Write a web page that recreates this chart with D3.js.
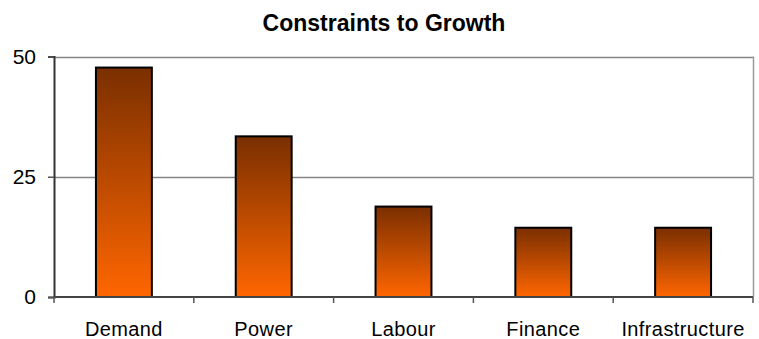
<!DOCTYPE html>
<html>
<head>
<meta charset="utf-8">
<script src="https://cdn.jsdelivr.net/npm/d3@7/dist/d3.min.js"></script>
<style>
  html, body { margin: 0; padding: 0; background: #ffffff; }
  svg { display: block; font-family: "Liberation Sans", Arial, sans-serif; }
</style>
</head>
<body>
<svg id="chart" width="759" height="339"></svg>
<script>
// Survey results: share of respondents naming each constraint
const categories = ["Demand", "Power", "Labour", "Finance", "Infrastructure"];
const values = [47.7, 33.4, 18.8, 14.4, 14.4];
const yTicks = [0, 25, 50];
const title = "Constraints to Growth";

const svg = d3.select("#chart");
const plotLeft = 54, plotRight = 753, plotTop = 56.5, plotBottom = 297;

const x = d3.scaleBand().domain(categories).range([plotLeft, plotRight]).paddingInner(0.6).paddingOuter(0.3);
const xb = d3.scaleBand().domain(categories).range([plotLeft, plotRight]);
const y = d3.scaleLinear().domain([0, 50]).range([plotBottom, plotTop]);

// Bar fill: dark brown at the top fading to bright orange at the base
const grad = svg.append("defs").append("linearGradient")
  .attr("id", "barGrad").attr("x1", 0).attr("y1", 0).attr("x2", 0).attr("y2", 1);
grad.append("stop").attr("offset", "0%").attr("stop-color", "#7a2f00");
grad.append("stop").attr("offset", "100%").attr("stop-color", "#ff6600");

// Horizontal gridlines
svg.append("g").selectAll("line").data(yTicks.filter(d => d > 0)).join("line")
  .attr("x1", plotLeft).attr("x2", plotRight)
  .attr("y1", d => Math.round(y(d)) + 0.5).attr("y2", d => Math.round(y(d)) + 0.5)
  .attr("stroke", "#858585").attr("stroke-width", 1.5);

// Right edge of plot area
svg.append("line")
  .attr("x1", plotRight + 0.5).attr("x2", plotRight + 0.5)
  .attr("y1", y(50)).attr("y2", y(0))
  .attr("stroke", "#999999").attr("stroke-width", 1.5);

// Bars
svg.append("g").selectAll("rect").data(values).join("rect")
  .attr("x", (d, i) => x(categories[i]))
  .attr("width", x.bandwidth())
  .attr("y", d => y(d))
  .attr("height", d => y(0) - y(d))
  .attr("fill", "url(#barGrad)")
  .attr("stroke", "#000000").attr("stroke-width", 2);

// Y axis
const yAxis = svg.append("g").attr("transform", `translate(${plotLeft},0)`)
  .call(d3.axisLeft(y).tickValues(yTicks).tickSize(6).tickPadding(12).tickFormat(d3.format("d")));
yAxis.select(".domain").attr("stroke", "#333333").attr("stroke-width", 2);
yAxis.selectAll(".tick line").attr("stroke", "#555555").attr("stroke-width", 1.5);
yAxis.selectAll(".tick text").attr("font-size", 21).attr("fill", "#000000")
  .attr("font-family", "Liberation Sans, Arial, sans-serif");

// X axis: ticks at category boundaries, labels centred under each bar
const xg = svg.append("g");
xg.append("line").attr("x1", plotLeft).attr("x2", plotRight)
  .attr("y1", plotBottom).attr("y2", plotBottom)
  .attr("stroke", "#444444").attr("stroke-width", 2);
const bounds = categories.map(c => xb(c)).concat([plotRight]);
xg.selectAll("line.tk").data(bounds).join("line").attr("class", "tk")
  .attr("x1", d => d).attr("x2", d => d)
  .attr("y1", plotBottom).attr("y2", plotBottom + 6)
  .attr("stroke", "#555555").attr("stroke-width", 1.5);
xg.selectAll("text").data(categories).join("text")
  .attr("x", d => xb(d) + xb.bandwidth() / 2)
  .attr("y", 336)
  .attr("text-anchor", "middle")
  .attr("font-size", 20)
  .attr("letter-spacing", 0.4)
  .attr("fill", "#000000")
  .text(d => d);

// Title
svg.append("text")
  .attr("x", 384).attr("y", 31)
  .attr("text-anchor", "middle")
  .attr("font-size", 23).attr("font-weight", "bold")
  .attr("fill", "#000000")
  .text(title);
</script>
</body>
</html>
